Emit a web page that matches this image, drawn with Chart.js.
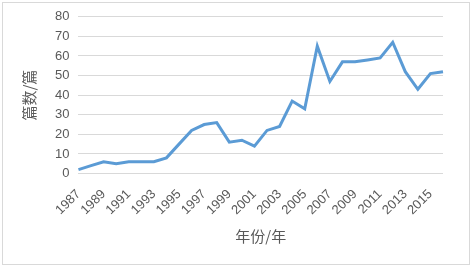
<!DOCTYPE html>
<html>
<head>
<meta charset="utf-8">
<script src="https://cdn.jsdelivr.net/npm/chart.js"></script>
<style>
  html, body { margin: 0; padding: 0; background: #fff; }
  #wrap { position: relative; width: 472px; height: 267px; }
  #frame { position: absolute; left: 2px; top: 2px; width: 466px; height: 261px; border: 1px solid #d9d9d9; pointer-events: none; }
</style>
</head>
<body>
<div id="wrap">
  <canvas id="chart" width="472" height="267"></canvas>
  <div id="frame"></div>
</div>
<script>
// years 1987 - 2016
const years = [];
for (let y = 1987; y <= 2016; y++) years.push(String(y));

const counts = [2, 4, 6, 5, 6, 6, 6, 8, 15, 22, 25, 26, 16, 17, 14, 22, 24, 37, 33, 65,
                47, 57, 57, 58, 59, 67, 52, 43, 51, 52];

const yTicks = [0, 10, 20, 30, 40, 50, 60, 70, 80];

const fontFamily = "'Noto Sans CJK SC', 'Liberation Sans', sans-serif";

new Chart(document.getElementById("chart"), {
    type: "line",
    data: {
        labels: years,
        datasets: [{
            data: counts,
            borderColor: "#5b9bd5",
            borderWidth: 3,
            pointRadius: 0,
            tension: 0,
            fill: false
        }]
    },
    options: {
        responsive: false,
        animation: false,
        layout: { padding: { left: 16, right: 29, top: 10, bottom: 18 } },
        plugins: { legend: { display: false }, tooltip: { enabled: false } },
        scales: {
            x: {
                offset: false,
                grid: { display: false },
                border: { display: false },
                ticks: {
                    autoSkip: false,
                    maxRotation: 45,
                    minRotation: 45,
                    padding: 5,
                    color: "#595959",
                    font: { family: "'Liberation Sans', sans-serif", size: 13 },
                    callback: (v, i) => (i % 2 === 0 ? years[i] : "")
                },
                title: {
                    display: true,
                    text: "年份/年",
                    color: "#595959",
                    font: { family: fontFamily, size: 15 },
                    padding: { top: 4 }
                }
            },
            y: {
                min: 0,
                max: 80,
                afterBuildTicks: axis => { axis.ticks = yTicks.map(v => ({ value: v })); },
                grid: { color: "#d9d9d9", lineWidth: 1, drawTicks: false },
                border: { display: false },
                ticks: {
                    padding: 9,
                    color: "#595959",
                    font: { family: "'Liberation Sans', sans-serif", size: 13 }
                },
                title: {
                    display: true,
                    text: "篇数/篇",
                    color: "#595959",
                    font: { family: fontFamily, size: 15 },
                    padding: { bottom: 8 }
                }
            }
        }
    }
});
</script>
</body>
</html>
